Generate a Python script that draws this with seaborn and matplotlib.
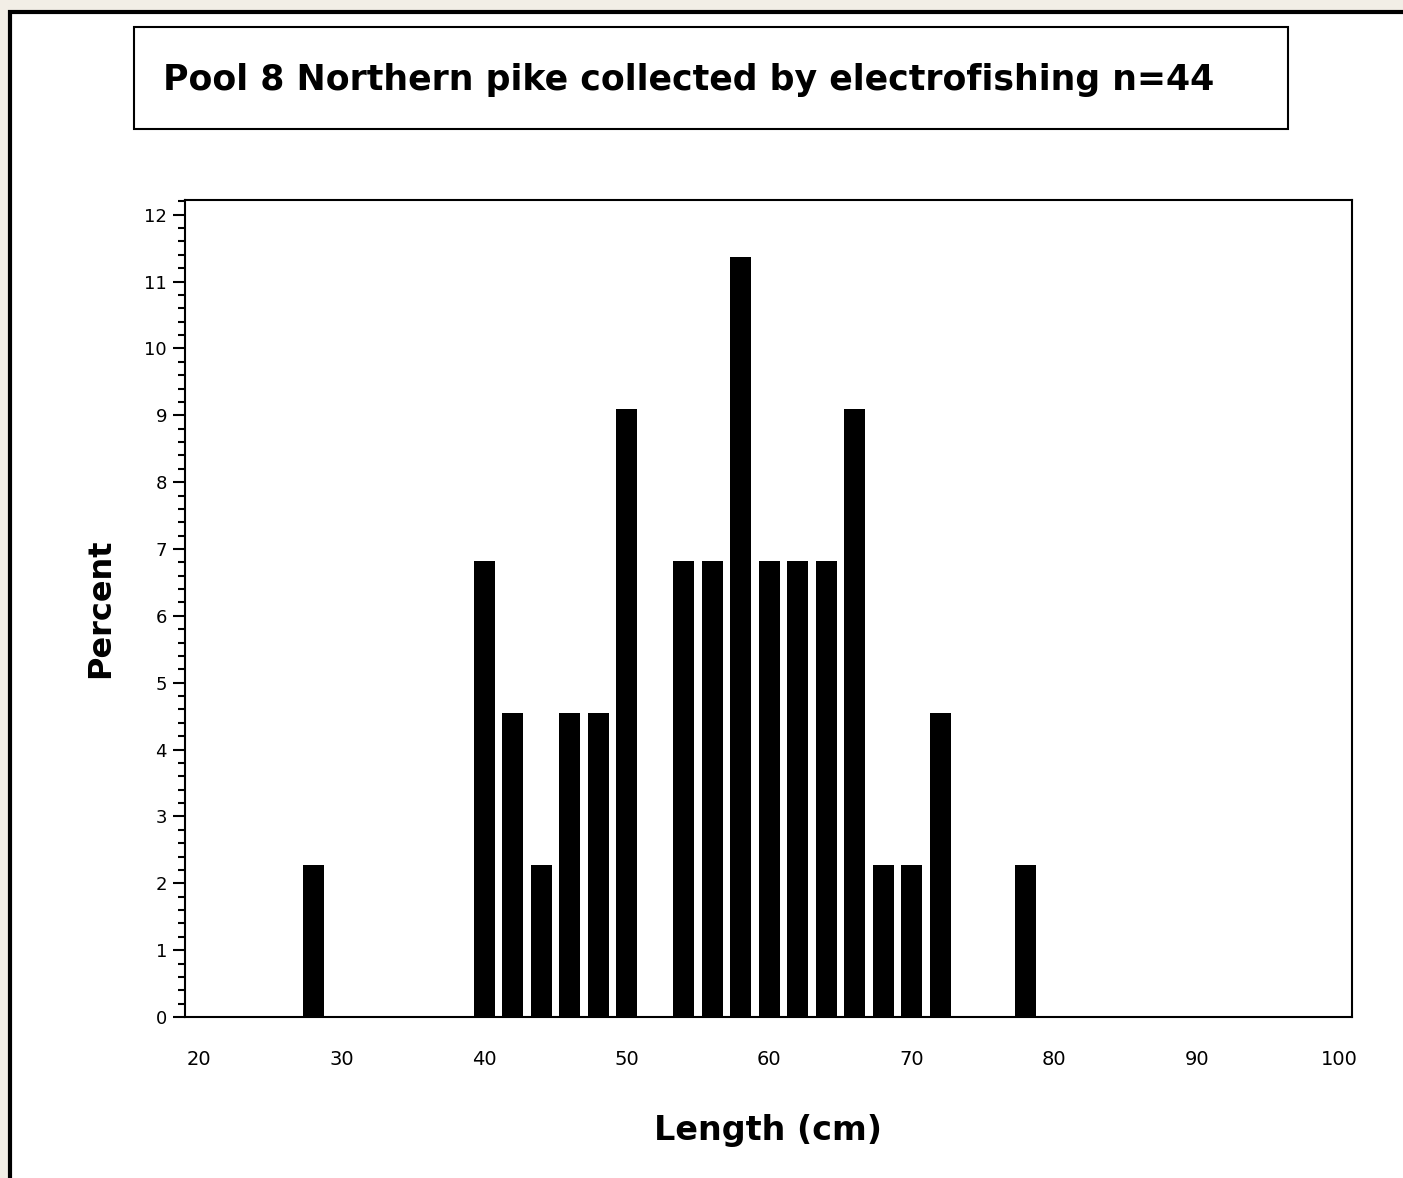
import matplotlib
matplotlib.use("Agg")
import matplotlib.pyplot as plt
import seaborn as sns
from matplotlib.patches import Rectangle
from matplotlib.ticker import MultipleLocator

# Length midpoints (cm) and percent of fish
lengths = [28, 40, 42, 44, 46, 48, 50, 54, 56, 58, 60, 62, 64, 66, 68, 70, 72, 78]
percents = [2.27, 6.82, 4.55, 2.27, 4.55, 4.55, 9.09, 6.82, 6.82, 11.36,
            6.82, 6.82, 6.82, 9.09, 2.27, 2.27, 4.55, 2.27]
x_ticks = [20, 30, 40, 50, 60, 70, 80, 90, 100]
y_ticks = list(range(0, 13))

title = "Pool 8 Northern pike collected by electrofishing n=44"

sns.set_theme(style="white")
plt.rcParams['font.family'] = ['DejaVu Sans']
plt.rcParams['text.color'] = 'black'
plt.rcParams['xtick.color'] = 'black'
plt.rcParams['ytick.color'] = 'black'
plt.rcParams['axes.labelcolor'] = 'black'

fig = plt.figure(figsize=(14.03, 11.78), dpi=100)
fig.patch.set_facecolor('#f2eee6')

W, H = 1403, 1178
def fx(px): return px / W
def fy(py): return 1 - py / H

# white panel with black frame (left and top visible)
fig.patches.append(Rectangle((fx(10), fy(1300)), fx(1500), fy(12) - fy(1300),
                             transform=fig.transFigure, facecolor='white',
                             edgecolor='black', linewidth=3, zorder=-2))

# title box
fig.patches.append(Rectangle((fx(134), fy(129)), fx(1288) - fx(134), fy(27) - fy(129),
                             transform=fig.transFigure, facecolor='white',
                             edgecolor='black', linewidth=1.5, zorder=-1))
fig.text(fx(163), fy(80), title, fontsize=25, fontweight='bold',
         ha='left', va='center', color='black')

ax = fig.add_axes([fx(185), fy(1017), fx(1352) - fx(185), fy(200) - fy(1017)])
sns.barplot(x=lengths, y=percents, native_scale=True, width=0.75,
            color='black', saturation=1, edgecolor='none', ax=ax)

ax.set_xlim(19.0, 100.9)
ax.set_ylim(0, 12.22)
ax.set_xticks(x_ticks)
ax.set_xticklabels([str(t) for t in x_ticks], fontsize=14)
ax.set_yticks(y_ticks)
ax.set_yticklabels([str(t) for t in y_ticks], fontsize=13)
ax.yaxis.set_minor_locator(MultipleLocator(0.2))
ax.tick_params(axis='x', length=0, pad=24)
ax.tick_params(axis='y', which='major', length=9, width=1.5, direction='out',
               left=True, pad=4, color='black')
ax.tick_params(axis='y', which='minor', length=5, width=1.5, direction='out',
               left=True, color='black')

for s in ax.spines.values():
    s.set_color('black')
    s.set_linewidth(1.5)
ax.set_facecolor('white')

ax.set_xlabel("Length (cm)", fontsize=24, fontweight='bold', labelpad=32)
ax.set_ylabel("Percent", fontsize=23, fontweight='bold', labelpad=20)

fig.savefig("out.png", dpi=100, facecolor=fig.get_facecolor())
